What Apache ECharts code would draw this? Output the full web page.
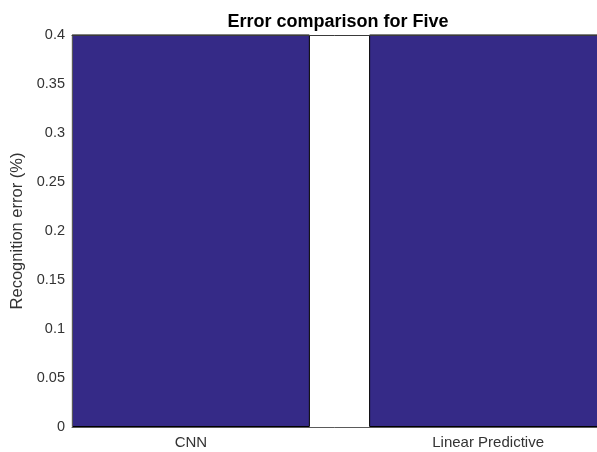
<!DOCTYPE html>
<html>
<head>
<meta charset="utf-8">
<script src="https://cdn.jsdelivr.net/npm/echarts@6/dist/echarts.min.js"></script>
<style>
html,body{margin:0;padding:0;background:#fff;}
#c{width:597px;height:452px;}
</style>
</head>
<body>
<div id="c"></div>
<script>
var categories = ['CNN', 'Linear Predictive'];
var positions = [1, 2];
var errorValues = [0.55, 0.55];
var yTicks = [0, 0.05, 0.1, 0.15, 0.2, 0.25, 0.3, 0.35, 0.4];

var chart = echarts.init(document.getElementById('c'), null, {renderer: 'canvas'});
var font = 'Liberation Sans, Arial, Helvetica, sans-serif';
var axisColor = '#333333';

chart.setOption({
  animation: false,
  title: {
    text: 'Error comparison for Five',
    left: 333, top: 8, textAlign: 'center',
    textStyle: {fontFamily: font, fontSize: 18, fontWeight: 'bold', color: '#000'}
  },
  grid: {left: 72, top: 35, width: 535, height: 392, containLabel: false, outerBoundsMode: 'none'},
  xAxis: [{
    type: 'value', min: 0.6, max: 2.4, position: 'bottom', z: 5,
    splitLine: {show: false},
    axisLine: {show: true, lineStyle: {color: '#5a5a5a', width: 1}},
    axisTick: {show: false},
    axisLabel: {
      customValues: positions,
      formatter: function (v) { var i = positions.indexOf(v); return i >= 0 ? categories[i] : ''; },
      fontFamily: font, fontSize: 15, color: axisColor, margin: 8
    }
  }, {
    type: 'value', min: 0.6, max: 2.4, position: 'top', z: 5,
    splitLine: {show: false},
    axisLine: {show: true, lineStyle: {color: '#3a3a3a', width: 1}},
    axisTick: {show: false}, axisLabel: {show: false}
  }],
  yAxis: {
    type: 'value', min: 0, max: 0.4, interval: 0.05, z: 5,
    name: 'Recognition error (%)', nameLocation: 'middle', nameGap: 41,
    nameTextStyle: {fontFamily: font, fontSize: 16.5, color: axisColor},
    splitLine: {show: false},
    axisLine: {show: true, lineStyle: {color: '#5a5a5a', width: 1}},
    axisTick: {show: false},
    axisLabel: {
      fontFamily: font, fontSize: 14.5, color: axisColor, margin: 7,
      formatter: function (v) { return String(parseFloat(v.toFixed(2))); }
    }
  },
  series: [{
    type: 'bar', clip: true,
    barWidth: 238,
    data: positions.map(function (p, i) { return [p, errorValues[i]]; }),
    itemStyle: {color: '#352a87', borderColor: '#000', borderWidth: 1}
  }]
});
</script>
</body>
</html>
